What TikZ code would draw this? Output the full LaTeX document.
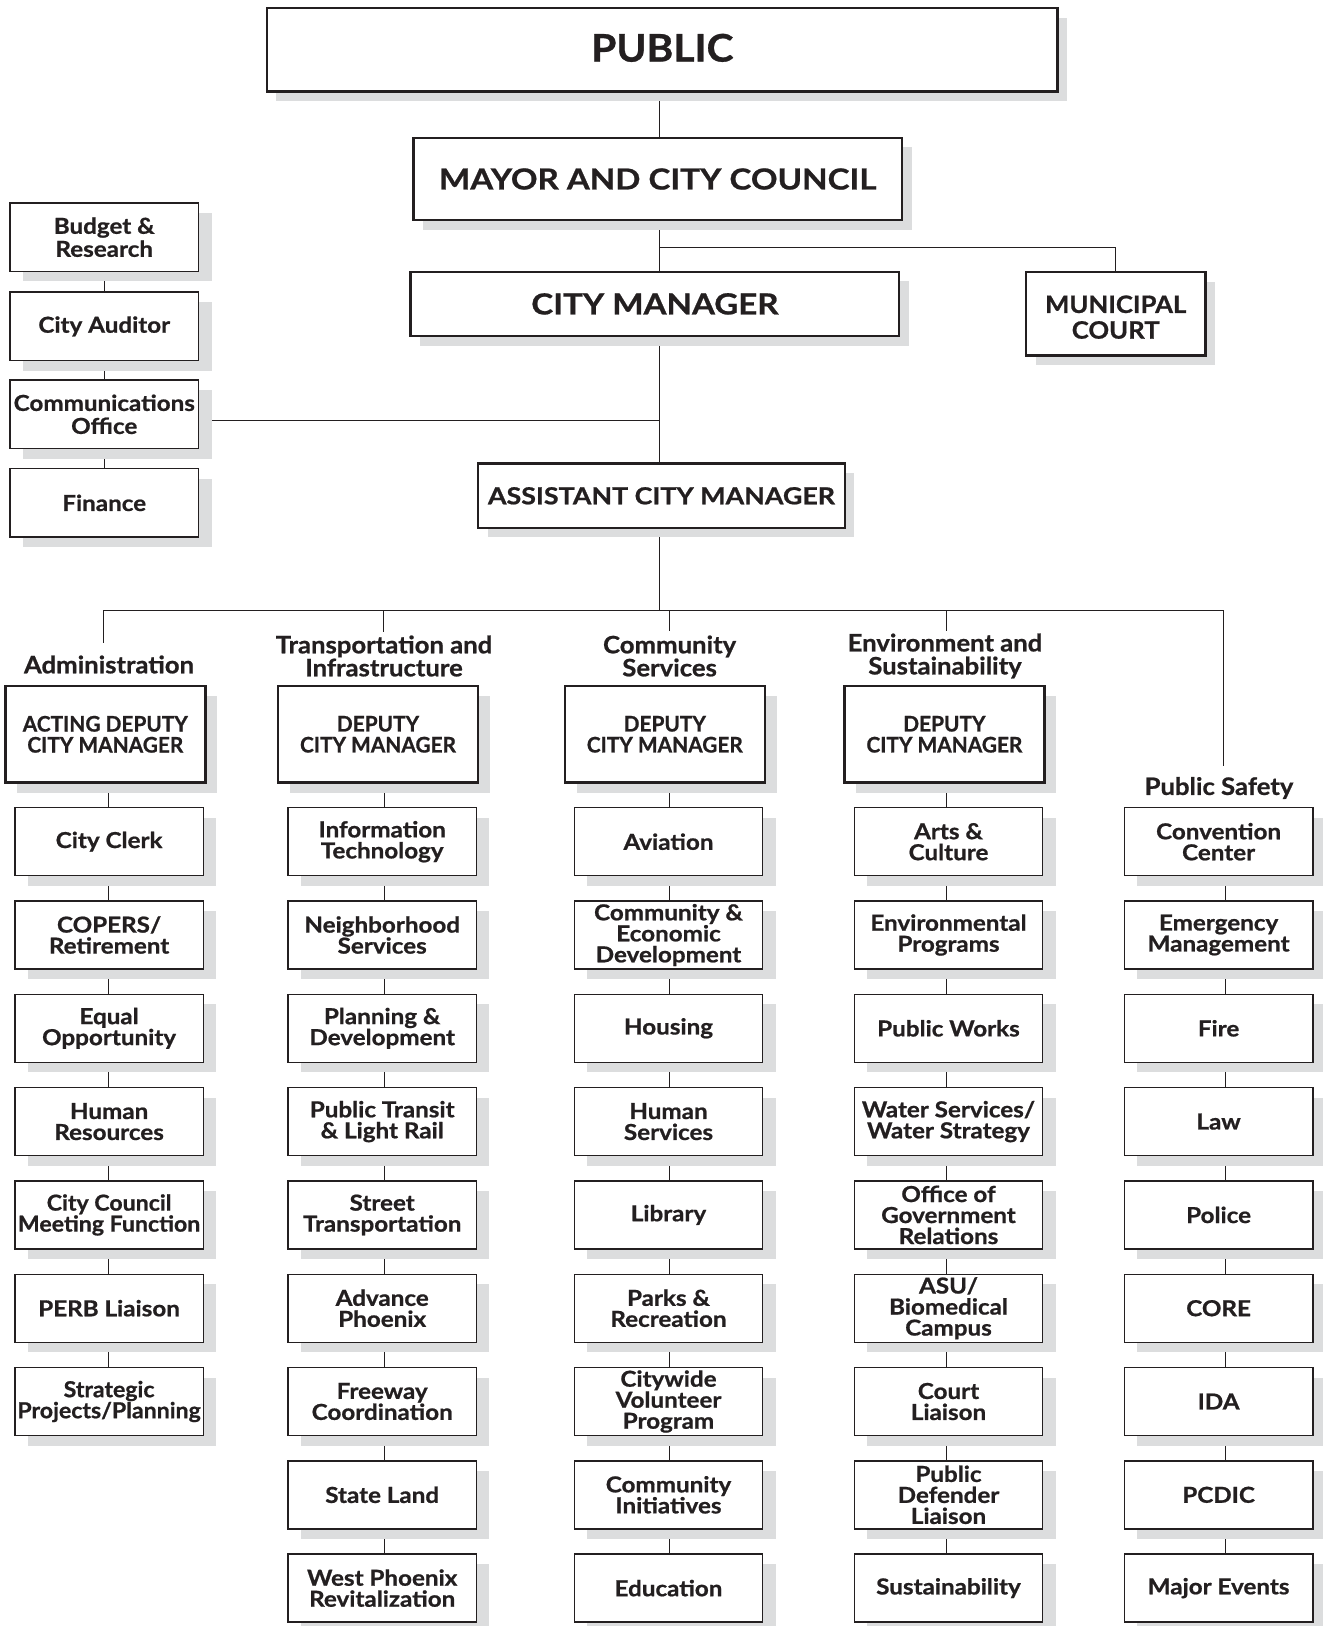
\documentclass[tikz,border=0pt]{standalone}
\usepackage{fontspec}
\setmainfont{Lato}
\newfontfamily\fontA{Lato}[FakeStretch=1.10, BoldFeatures={FakeBold=0.8}]
\newfontfamily\fontM{Lato}[FakeStretch=1.05, BoldFeatures={FakeBold=0.8}]
\newfontfamily\fontT{Lato}[FakeStretch=1.14, BoldFeatures={FakeBold=0.8}]
\newfontfamily\fontS{Lato}[FakeStretch=1.07, BoldFeatures={FakeBold=0.8}]
\newfontfamily\fontD{Lato}[FakeStretch=0.97, BoldFeatures={FakeBold=0.8}]
\usetikzlibrary{shadows}
\definecolor{ink}{HTML}{231F20}
\definecolor{shade}{HTML}{DCDDDE}
\pgfdeclarelayer{paper}
\pgfdeclarelayer{bg}
\pgfsetlayers{paper,bg,main}
\tikzset{
  box/.style={draw=ink, fill=white, text=ink, align=center, inner sep=0pt},
  smallbox/.style={box, line width=1.4pt, minimum width=188.5pt, minimum height=68pt,
     drop shadow={shadow xshift=13pt, shadow yshift=-10pt, fill=shade, opacity=1},
     font=\fontA\fontsize{22}{21}\selectfont\bfseries},
  tightbox/.style={smallbox, font=\fontM\fontsize{22}{21}\selectfont\bfseries},
  leftbox/.style={smallbox, minimum width=188.9pt, minimum height=68.5pt,
     font=\fontA\fontsize{22}{23}\selectfont\bfseries},
  bigbox/.style={box, line width=2.6pt,
     drop shadow={shadow xshift=9.5pt, shadow yshift=-9.5pt, fill=shade, opacity=1}},
  depbox/.style={box, line width=2.6pt, minimum width=200pt, minimum height=96.7pt,
     drop shadow={shadow xshift=12pt, shadow yshift=-10pt, fill=shade, opacity=1},
     font=\fontD\fontsize{21.5}{21}\selectfont\bfseries},
  sect/.style={text=ink, align=center, inner sep=0pt, font=\fontS\fontsize{24}{23}\selectfont\bfseries},
  conn/.style={draw=ink, line width=1pt},
}
\begin{document}
\begin{tikzpicture}[x=1pt,y=-1pt]
\useasboundingbox (0,0) rectangle (1323,1626);
\begin{pgfonlayer}{paper}
\fill[white] (0,0) rectangle (1323,1626);
\end{pgfonlayer}

% top boxes
\node[bigbox, minimum width=790.7pt, minimum height=83.4pt, font=\fontS\fontsize{38}{40}\selectfont\bfseries] (public) at (662.3,49.7) {\rule[-4pt]{0pt}{4pt}PUBLIC};
\node[bigbox, minimum width=488.6pt, minimum height=82.1pt, font=\fontT\fontsize{29}{30}\selectfont\bfseries] (mayor) at (657.7,179) {MAYOR AND CITY COUNCIL};
\node[bigbox, minimum width=488.3pt, minimum height=64.2pt, font=\fontT\fontsize{29}{30}\selectfont\bfseries] (cm) at (654.9,303.9) {CITY MANAGER};
\node[bigbox, minimum width=366.8pt, minimum height=64.3pt, font=\fontT\fontsize{23.5}{24}\selectfont\bfseries] (acm) at (661.4,495.8) {ASSISTANT CITY MANAGER};
\node[bigbox, minimum width=179.4pt, minimum height=83.7pt, font=\fontS\fontsize{24}{25.7}\selectfont\bfseries] (court) at (1115.7,313.9) {\rule{0pt}{24pt}MUNICIPAL\\COURT};

% left stack
\node[leftbox] (budget) at (104.25,237.2) {Budget \&\\Research};
\node[leftbox] (auditor) at (104.25,326.4) {City Auditor};
\node[leftbox] (comm) at (104.25,414.3) {Communications\\Office};
\node[leftbox] (finance) at (104.25,502.9) {Finance};

% section labels
\node[sect] (admlab) at (109,664.5) {Administration};
\node[sect] (trlab) at (384,656) {Transportation and\\Infrastructure};
\node[sect] (colab) at (669.6,656) {Community\\Services};
\node[sect] (enlab) at (945,656) {Environment and\\Sustainability};
\node[sect] (pslab) at (1219,788) {Public Safety};

% deputy boxes
\node[depbox] (ad) at (105.3,734.3) {ACTING DEPUTY\\CITY MANAGER};
\node[depbox] (td) at (378,734.3) {DEPUTY\\CITY MANAGER};
\node[depbox] (cd) at (664.8,734.3) {DEPUTY\\CITY MANAGER};
\node[depbox] (ed) at (944.4,734.3) {DEPUTY\\CITY MANAGER};

% Administration column
\node[smallbox] (a0) at (109.1,841.7) {City Clerk};
\node[smallbox] (a1) at (109.1,935) {COPERS/\\Retirement};
\node[smallbox] (a2) at (109.1,1028.3) {Equal\\Opportunity};
\node[smallbox] (a3) at (109.1,1121.6) {Human\\Resources};
\node[tightbox] (a4) at (109.1,1214.9) {City Council\\Meeting Function};
\node[smallbox] (a5) at (109.1,1308.2) {PERB Liaison};
\node[tightbox] (a6) at (109.1,1401.5) {Strategic\\Projects/Planning};

% Transportation column
\node[smallbox] (t0) at (382.2,841.7) {Information\\Technology};
\node[smallbox] (t1) at (382.2,935) {Neighborhood\\Services};
\node[smallbox] (t2) at (382.2,1028.3) {Planning \&\\Development};
\node[smallbox] (t3) at (382.2,1121.6) {Public Transit\\\& Light Rail};
\node[smallbox] (t4) at (382.2,1214.9) {Street\\Transportation};
\node[smallbox] (t5) at (382.2,1308.2) {Advance\\Phoenix};
\node[smallbox] (t6) at (382.2,1401.5) {Freeway\\Coordination};
\node[smallbox] (t7) at (382.2,1494.8) {State Land};
\node[smallbox] (t8) at (382.2,1588.1) {West Phoenix\\Revitalization};

% Community column
\node[smallbox] (c0) at (668.5,841.7) {Aviation};
\node[smallbox] (c1) at (668.5,935) {Community \&\\Economic\\Development};
\node[smallbox] (c2) at (668.5,1028.3) {Housing};
\node[smallbox] (c3) at (668.5,1121.6) {Human\\Services};
\node[smallbox] (c4) at (668.5,1214.9) {Library};
\node[smallbox] (c5) at (668.5,1308.2) {Parks \&\\Recreation};
\node[smallbox] (c6) at (668.5,1401.5) {Citywide\\Volunteer\\Program};
\node[smallbox] (c7) at (668.5,1494.8) {Community\\Initiatives};
\node[smallbox] (c8) at (668.5,1588.1) {Education};

% Environment column
\node[smallbox] (e0) at (948.5,841.7) {Arts \&\\Culture};
\node[smallbox] (e1) at (948.5,935) {Environmental\\Programs};
\node[smallbox] (e2) at (948.5,1028.3) {Public Works};
\node[smallbox] (e3) at (948.5,1121.6) {Water Services/\\Water Strategy};
\node[smallbox] (e4) at (948.5,1214.9) {Office of\\Government\\Relations};
\node[smallbox] (e5) at (948.5,1308.2) {ASU/\\Biomedical\\Campus};
\node[smallbox] (e6) at (948.5,1401.5) {Court\\Liaison};
\node[smallbox] (e7) at (948.5,1494.8) {Public\\Defender\\Liaison};
\node[smallbox] (e8) at (948.5,1588.1) {Sustainability};

% Public Safety column
\node[smallbox] (p0) at (1218.6,841.7) {Convention\\Center};
\node[smallbox] (p1) at (1218.6,935) {Emergency\\Management};
\node[smallbox] (p2) at (1218.6,1028.3) {Fire};
\node[smallbox] (p3) at (1218.6,1121.6) {Law};
\node[smallbox] (p4) at (1218.6,1214.9) {Police};
\node[smallbox] (p5) at (1218.6,1308.2) {CORE};
\node[smallbox] (p6) at (1218.6,1401.5) {IDA};
\node[smallbox] (p7) at (1218.6,1494.8) {PCDIC};
\node[smallbox] (p8) at (1218.6,1588.1) {Major Events};

% connector coordinates
\coordinate (cx) at (659.4,0);
\coordinate (mj) at (659.4,247.5);
\coordinate (cj) at (659.4,420.4);
\coordinate (bus) at (659.4,610);
\coordinate (busL) at (103.7,610);
\coordinate (busR) at (1223,610);
\coordinate (admEnd) at (103.7,642.7);
\coordinate (trTop) at (383.3,610);
\coordinate (trEnd) at (383.3,631.7);
\coordinate (coTop) at (669.6,610);
\coordinate (coEnd) at (669.6,630.7);
\coordinate (enTop) at (946,610);
\coordinate (enEnd) at (946,631);
\coordinate (psEnd) at (1223,765.7);
\coordinate (ax) at (108,0);
\coordinate (tx) at (384,0);
\coordinate (kx) at (669.6,0);
\coordinate (ex) at (946,0);
\coordinate (px) at (1225,0);

\begin{pgfonlayer}{bg}
  \draw[conn] (public -| cx) -- (acm -| cx) -- (bus);
  \draw[conn] (mj) -| (court);
  \draw[conn] (cj) -- (cj -| comm.east);
  \draw[conn] (budget) -- (auditor) -- (comm) -- (finance);
  \draw[conn] (admEnd) -- (busL) -- (busR) -- (psEnd);
  \draw[conn] (trTop) -- (trEnd);
  \draw[conn] (coTop) -- (coEnd);
  \draw[conn] (enTop) -- (enEnd);
  \draw[conn] (ad -| ax) -- (a0 -| ax);
  \draw[conn] (td -| tx) -- (t0 -| tx);
  \draw[conn] (cd -| kx) -- (c0 -| kx);
  \draw[conn] (ed -| ex) -- (e0 -| ex);
  \draw[conn] (p0 -| px) -- (p8 -| px);
  \draw[conn] (a0 -| ax) -- (a6 -| ax);
  \draw[conn] (t0 -| tx) -- (t8 -| tx);
  \draw[conn] (c0 -| kx) -- (c8 -| kx);
  \draw[conn] (e0 -| ex) -- (e8 -| ex);
\end{pgfonlayer}
\end{tikzpicture}
\end{document}
